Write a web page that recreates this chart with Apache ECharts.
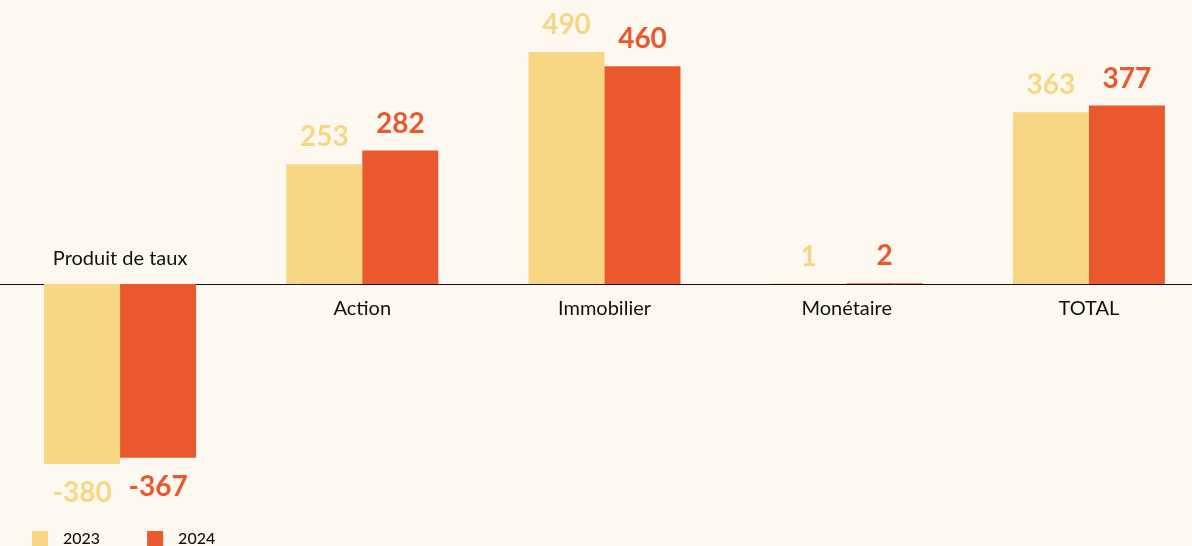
<!DOCTYPE html>
<html>
<head>
<meta charset="utf-8">
<script src="https://cdn.jsdelivr.net/npm/echarts@6/dist/echarts.min.js"></script>
<style>
  html, body { margin: 0; padding: 0; background: #fdf9f1; }
  #chart { width: 1192px; height: 546px; }
</style>
</head>
<body>
<div id="chart"></div>
<script>
// categories and values
const categories = ['Produit de taux', 'Action', 'Immobilier', 'Monétaire', 'TOTAL'];
const values2023 = [-380, 253, 490, 1, 363];
const values2024 = [-367, 282, 460, 2, 377];
const seriesNames = ['2023', '2024'];

const yellow = '#f7d784';
const orange = '#ea582d';

const yMin = -500, yMax = 600;
const gridTop = 0, gridHeight = 520.8;
// zero line sits inside the grid, move the category axis up to it
const zeroOffset = -gridHeight * (0 - yMin) / (yMax - yMin);

let chart = echarts.init(document.getElementById('chart'));

function withLabels(list, color) {
    return list.map(v => ({
        value: v,
        label: {
            position: v < 0 ? 'bottom' : 'top',
            distance: v < 0 ? 15 : 13,
            color: color
        }
    }));
}

let option = {
    backgroundColor: '#fdf9f1',
    animation: false,
    textStyle: { fontFamily: 'Lato' },
    grid: {
        left: -1,
        width: 1211,
        top: gridTop,
        height: gridHeight,
        containLabel: false,
        outerBoundsMode: 'none'
    },
    legend: {
        left: 27,
        top: 526,
        itemWidth: 16,
        itemHeight: 16,
        itemGap: 47,
        icon: 'rect',
        data: seriesNames,
        textStyle: {
            fontFamily: 'Lato',
            fontSize: 16,
            fontWeight: 500,
            color: '#111',
            padding: [0, 0, 0, 10]
        }
    },
    xAxis: {
        type: 'category',
        data: categories.map(c => c === 'Produit de taux'
            ? { value: c, textStyle: { verticalAlign: 'bottom', padding: [0, 0, 30, 0] } }
            : c),
        offset: zeroOffset,
        axisLine: { show: true, onZero: false, lineStyle: { color: '#111', width: 1 } },
        axisTick: { show: false },
        axisLabel: {
            margin: 14,
            fontFamily: 'Lato',
            fontSize: 20,
            color: '#111',
            interval: 0
        }
    },
    yAxis: {
        type: 'value',
        min: yMin,
        max: yMax,
        show: false,
        splitLine: { show: false }
    },
    series: [
        {
            name: seriesNames[0],
            type: 'bar',
            barWidth: 76,
            barGap: '0%',
            itemStyle: { color: yellow },
            label: {
                show: true,
                fontFamily: 'Lato',
                fontWeight: 'bold',
                fontSize: 28
            },
            data: withLabels(values2023, yellow)
        },
        {
            name: seriesNames[1],
            type: 'bar',
            barWidth: 76,
            barGap: '0%',
            itemStyle: { color: orange },
            label: {
                show: true,
                fontFamily: 'Lato',
                fontWeight: 'bold',
                fontSize: 28
            },
            data: withLabels(values2024, orange)
        }
    ]
};
chart.setOption(option, true);
</script>
</body>
</html>
